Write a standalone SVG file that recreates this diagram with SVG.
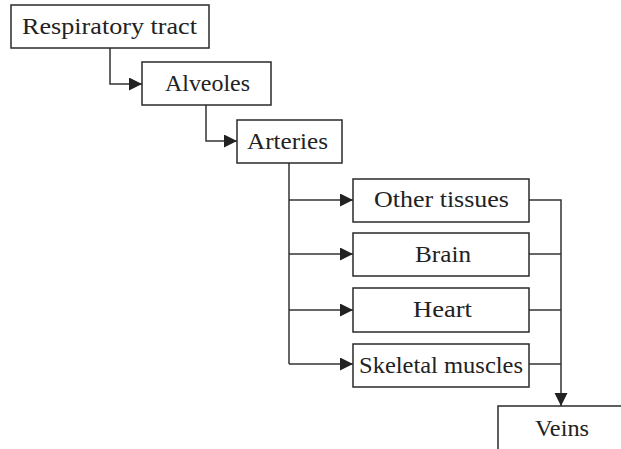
<svg xmlns="http://www.w3.org/2000/svg" width="621" height="449" viewBox="0 0 621 449">
<style>
.box{fill:#fff;stroke:#2a2a2a;stroke-width:1.5}
.t{font-family:"Liberation Serif","Times New Roman",serif;font-size:23px;fill:#222;text-anchor:start}
.c{fill:none;stroke:#333;stroke-width:1.5}
</style>
<defs>
<marker id="ah" markerUnits="userSpaceOnUse" markerWidth="14" markerHeight="14" refX="13" refY="6.5" orient="auto">
<path d="M0,0 L13,6.5 L0,13 Z" fill="#222"/>
</marker>
</defs>
<g id="connectors">
<path class="c" d="M110,48 V84 H142" marker-end="url(#ah)"/>
<path class="c" d="M206,105 V141 H237" marker-end="url(#ah)"/>
<path class="c" d="M289,163 V364"/>
<path class="c" d="M289,200 H353" marker-end="url(#ah)"/>
<path class="c" d="M289,254 H353" marker-end="url(#ah)"/>
<path class="c" d="M289,310 H353" marker-end="url(#ah)"/>
<path class="c" d="M289,364 H353" marker-end="url(#ah)"/>
<path class="c" d="M529,200 H561 V406" marker-end="url(#ah)"/>
<path class="c" d="M529,254 H561"/>
<path class="c" d="M529,310 H561"/>
<path class="c" d="M529,364 H561"/>
</g>
<g id="respiratory">
<rect class="box" x="11" y="5" width="198" height="43"/>
<text class="t" x="22" y="34" textLength="175" lengthAdjust="spacingAndGlyphs">Respiratory tract</text>
</g>
<g id="alveoles">
<rect class="box" x="142" y="62" width="129" height="43"/>
<text class="t" x="165" y="91" textLength="85" lengthAdjust="spacingAndGlyphs">Alveoles</text>
</g>
<g id="arteries">
<rect class="box" x="237" y="120" width="105" height="43"/>
<text class="t" x="247" y="149" textLength="81" lengthAdjust="spacingAndGlyphs">Arteries</text>
</g>
<g id="other">
<rect class="box" x="353" y="179" width="176" height="43"/>
<text class="t" x="374" y="207" textLength="135" lengthAdjust="spacingAndGlyphs">Other tissues</text>
</g>
<g id="brain">
<rect class="box" x="353" y="233" width="176" height="43"/>
<text class="t" x="415" y="262" textLength="56" lengthAdjust="spacingAndGlyphs">Brain</text>
</g>
<g id="heart">
<rect class="box" x="353" y="288" width="176" height="44"/>
<text class="t" x="413" y="317" textLength="59" lengthAdjust="spacingAndGlyphs">Heart</text>
</g>
<g id="skeletal">
<rect class="box" x="353" y="344" width="176" height="43"/>
<text class="t" x="359" y="373" textLength="164" lengthAdjust="spacingAndGlyphs">Skeletal muscles</text>
</g>
<g id="veins">
<path class="box" d="M498,449 V406 H621" fill="none"/>
<text class="t" x="535" y="436" textLength="54" lengthAdjust="spacingAndGlyphs">Veins</text>
</g>
</svg>
